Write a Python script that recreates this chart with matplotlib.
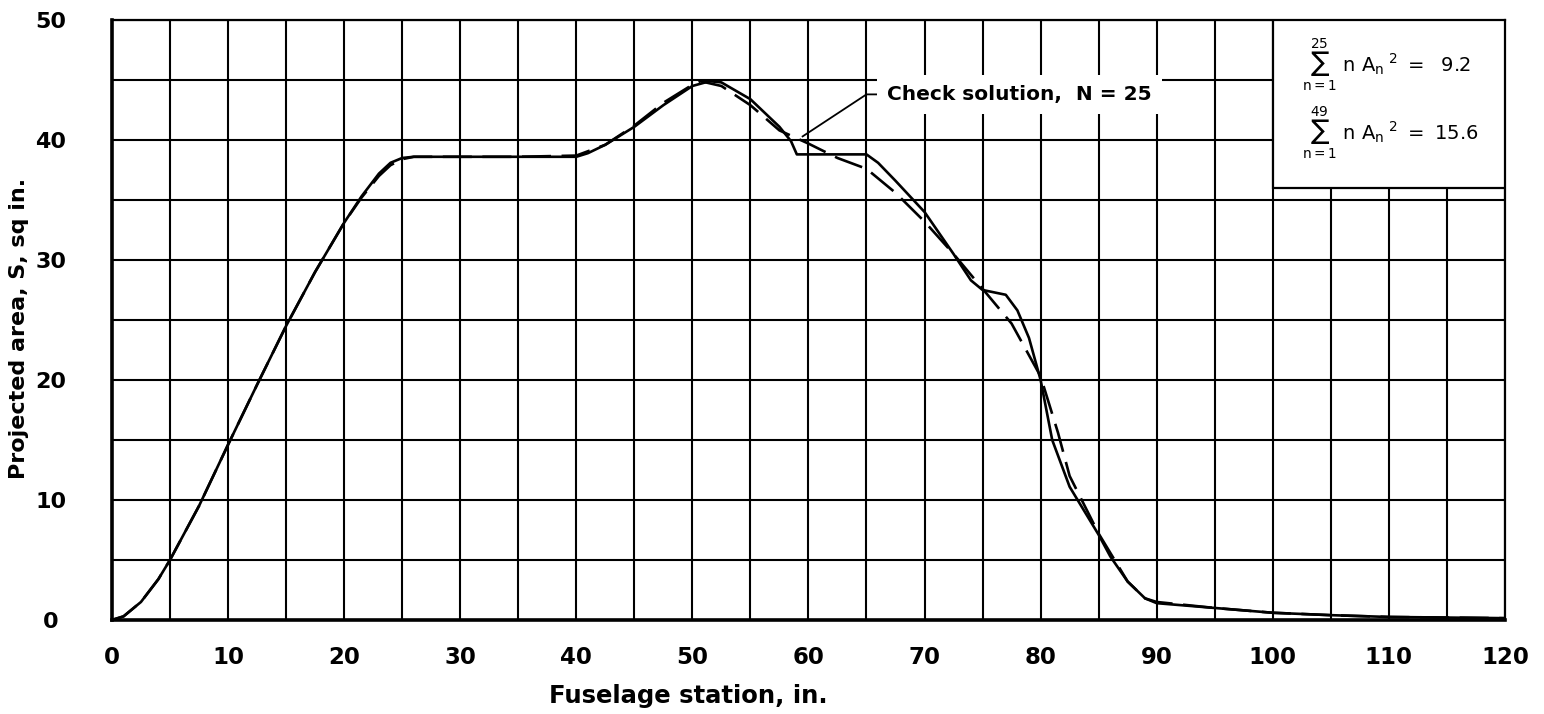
import matplotlib
matplotlib.use("Agg")
import matplotlib.pyplot as plt
from matplotlib.patches import Rectangle

plt.rcParams['font.family'] = ['DejaVu Sans']
plt.rcParams['mathtext.fontset'] = 'dejavusans'

# original area distribution (solid)
x_orig = [0, 1, 2.5, 4, 5, 7.5, 10, 12.5, 15, 17.5, 20, 21.5, 23, 24, 25, 26, 30, 35, 40,
          41, 42.5, 45, 47.5, 50, 51.5, 52.5, 55, 57.5, 58.5, 59, 60, 65, 66, 67.5,
          70, 72.5, 74, 75, 76, 77, 78, 79, 80, 81, 82.5, 85, 86, 87.5, 89, 90, 95,
          100, 105, 110, 115, 120]
s_orig = [0, 0.3, 1.5, 3.4, 5, 9.5, 14.6, 19.6, 24.5, 29, 33.1, 35.3, 37.2, 38.1, 38.5, 38.6,
          38.6, 38.6, 38.6, 38.9, 39.6, 41.1, 42.9, 44.5, 44.9, 44.8, 43.4, 41.1,
          39.9, 38.8, 38.8, 38.8, 38.1, 36.6, 34, 30.5, 28.3, 27.5, 27.3, 27.1, 25.8,
          23.5, 20, 15, 11.1, 7.1, 5.3, 3.2, 1.8, 1.4, 1.0, 0.6, 0.4, 0.25, 0.2, 0.15]

# check solution, N = 25 (dashed)
x_check = [0, 1, 2.5, 4, 5, 7.5, 10, 12.5, 15, 17.5, 20, 21.5, 23, 24, 25, 26, 30, 35, 40,
           42.5, 45, 47.5, 50, 50.7, 52.5, 55, 57.5, 60, 62.5, 65, 67.5, 70, 72.5, 75,
           77.5, 80, 81.5, 82.5, 85, 87.5, 89, 90, 95, 100, 105, 110, 115, 120]
s_check = [0, 0.3, 1.5, 3.4, 5, 9.5, 14.6, 19.6, 24.5, 29, 33.1, 35.2, 37, 37.9, 38.4, 38.6,
           38.6, 38.6, 38.7, 39.6, 41.2, 43.1, 44.6, 44.9, 44.5, 42.9, 40.8, 39.7,
           38.5, 37.6, 35.6, 33.2, 30.5, 27.6, 24.7, 20.3, 15.6, 12, 7.2, 3.2, 1.8,
           1.5, 1.0, 0.6, 0.4, 0.25, 0.2, 0.15]

xticks = list(range(0, 121, 10))
yticks = list(range(0, 51, 10))

fig = plt.figure(figsize=(15.44, 7.14), dpi=100)
ax = fig.add_axes([0.0725, 0.1317, 0.9022, 0.8403])

ax.set_xlim(0, 120)
ax.set_ylim(0, 50)
ax.set_xticks(xticks)
ax.set_yticks(yticks)
ax.set_xticks(range(5, 120, 10), minor=True)
ax.set_yticks(range(5, 50, 10), minor=True)
ax.grid(True, which='both', color='black', linewidth=1.5, zorder=0)
ax.tick_params(which='both', length=0)
ax.tick_params(axis='x', pad=19, labelsize=16.5)
ax.tick_params(axis='y', pad=44, labelsize=16)
for lab in ax.get_yticklabels():
    lab.set_ha('center')
    lab.set_fontweight('bold')
for lab in ax.get_xticklabels():
    lab.set_fontweight('bold')

for side in ['left', 'bottom']:
    ax.spines[side].set_linewidth(2.6)
for side in ['top', 'right']:
    ax.spines[side].set_linewidth(1.6)

ax.plot(x_orig, s_orig, color='black', linewidth=1.9, zorder=3)
ax.plot(x_check, s_check, color='black', linewidth=1.9, dashes=(11, 4), zorder=3)

# annotation
ax.plot([59.5, 65, 66.3], [40.3, 43.8, 43.8], color='black', linewidth=1.3, zorder=4)
ax.text(66.8, 43.8, 'Check solution,  N = 25', fontsize=14.5, fontweight='bold',
        va='center', ha='left', zorder=5,
        bbox=dict(boxstyle='square,pad=0.5', facecolor='white', edgecolor='none'))

# sums box
ax.add_patch(Rectangle((100, 36), 20, 14, facecolor='white', edgecolor='black',
                       linewidth=1.6, zorder=4))
ax.text(102.5, 46.3, r'$\sum_{\mathrm{n=1}}^{25}\ \mathrm{n\ A_n}^{\ 2}\ =\ \ 9.2$',
        fontsize=14, va='center', ha='left', zorder=5)
ax.text(102.5, 40.6, r'$\sum_{\mathrm{n=1}}^{49}\ \mathrm{n\ A_n}^{\ 2}\ =\ 15.6$',
        fontsize=14, va='center', ha='left', zorder=5)

fig.text(688 / 1544, 1 - 696 / 714, 'Fuselage station, in.', fontsize=17.5,
         fontweight='bold', ha='center', va='center')
fig.text(19 / 1544, 1 - 328 / 714, 'Projected area, S, sq in.', fontsize=16,
         fontweight='bold', ha='center', va='center', rotation=90)

fig.savefig('out.png', dpi=100, facecolor='white')
